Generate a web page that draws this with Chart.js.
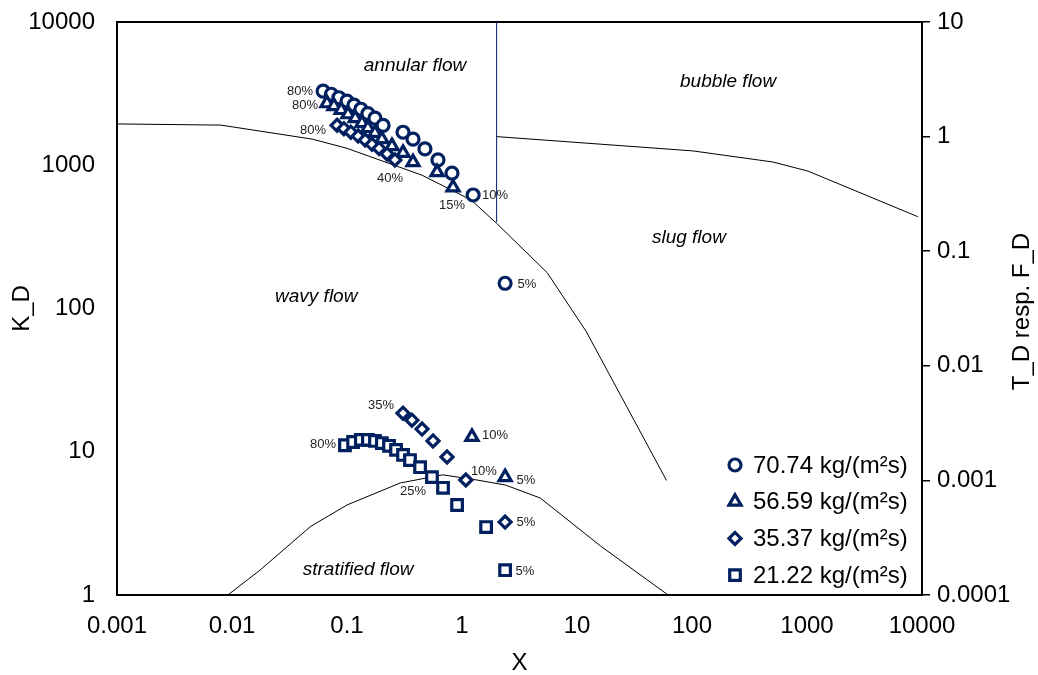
<!DOCTYPE html>
<html>
<head>
<meta charset="utf-8">
<script src="https://cdn.jsdelivr.net/npm/chart.js@4.4.0/dist/chart.umd.min.js"></script>
<style>
  html, body { margin: 0; padding: 0; background: #fff; }
</style>
</head>
<body>
<canvas id="flowMap" width="1038" height="675"></canvas>
<script>
// series (mass flux)
const seriesNames = ['70.74 kg/(m²s)', '56.59 kg/(m²s)', '35.37 kg/(m²s)', '21.22 kg/(m²s)'];

// measured points, vapour quality 80% -> 5%
const circleX = [0.062, 0.073, 0.085, 0.100, 0.115, 0.132, 0.152, 0.175, 0.206, 0.307, 0.375, 0.476, 0.618, 0.818, 1.25, 2.37];
const circleK = [3290, 3130, 2960, 2800, 2630, 2460, 2290, 2130, 1900, 1700, 1520, 1300, 1090, 880, 620, 150];

const triangleX = [0.067, 0.077, 0.089, 0.102, 0.118, 0.135, 0.152, 0.175, 0.201, 0.246, 0.307, 0.375, 0.607, 0.836, 1.22, 2.37];
const triangleK = [2710, 2590, 2430, 2270, 2130, 1970, 1820, 1680, 1520, 1360, 1220, 1050, 895, 700, 12.7, 6.65];

const diamondX = [0.082, 0.094, 0.108, 0.125, 0.144, 0.165, 0.190, 0.223, 0.261, 0.307, 0.367, 0.449, 0.560, 0.741, 1.08, 2.37];
const diamondK = [1900, 1800, 1700, 1600, 1500, 1400, 1310, 1200, 1090, 18.6, 16.6, 14.4, 11.9, 9.2, 6.35, 3.23];

const squareX = [0.096, 0.113, 0.132, 0.152, 0.175, 0.201, 0.232, 0.267, 0.307, 0.353, 0.432, 0.548, 0.684, 0.906, 1.62, 2.37];
const squareK = [11.1, 11.7, 12.1, 12.1, 11.9, 11.5, 11.0, 10.3, 9.5, 8.75, 7.8, 6.65, 5.6, 4.25, 2.98, 1.49];

// flow pattern boundaries
const curveAX = [0.001, 0.008, 0.05, 0.1, 0.45, 1.2, 2, 5.5, 12, 60];          // F_D (right axis)
const curveAF = [1.29, 1.26, 0.95, 0.79, 0.46, 0.28, 0.175, 0.065, 0.02, 0.001];
const curveBX = [2, 2];                                                          // K_D (left axis)
const curveBK = [400, 10000];
const curveCX = [0.0092, 0.0175, 0.048, 0.1, 0.29, 0.68, 1.35, 2.4, 4.8, 16, 62]; // K_D (left axis)
const curveCK = [1, 1.49, 3.0, 4.25, 6.05, 6.9, 6.35, 5.85, 4.75, 2.2, 1];
const curveDX = [2, 102, 506, 1020, 9200];                                       // T_D (right axis)
const curveDT = [1.0, 0.75, 0.6, 0.5, 0.2];

// tick labels
const xTicks = [0.001, 0.01, 0.1, 1, 10, 100, 1000, 10000];
const xTickLabels = ['0.001', '0.01', '0.1', '1', '10', '100', '1000', '10000'];
const kTicks = [1, 10, 100, 1000, 10000];
const kTickLabels = ['1', '10', '100', '1000', '10000'];
const tfTicks = [0.0001, 0.001, 0.01, 0.1, 1, 10];
const tfTickLabels = ['0.0001', '0.001', '0.01', '0.1', '1', '10'];

// text in the plot
const regionText = ['annular flow', 'bubble flow', 'slug flow', 'wavy flow', 'stratified flow'];
const regionX = [0.39, 206, 94, 0.054, 0.125];
const regionK = [4920, 3860, 310, 120, 1.49];

const qualityText = ['80%', '80%', '80%', '40%', '15%', '10%', '5%', '35%', '10%', '80%', '10%', '5%', '25%', '5%', '5%'];
const qualityX = [0.039, 0.0432, 0.0506, 0.237, 0.818, 1.94, 3.67, 0.198, 1.94, 0.0618, 1.55, 3.60, 0.375, 3.60, 3.53];
const qualityK = [3290, 2630, 1760, 813, 527, 618, 148, 21.2, 13.1, 11.3, 7.33, 6.35, 5.32, 3.23, 1.47];

const NAVY = '#002060';
const FONT = '"Liberation Sans", Arial, sans-serif';

const toPoints = (xs, ys) => xs.map((x, i) => ({ x: x, y: ys[i] }));

const markerStyles = [
    { pointStyle: 'circle', radius: 6 },
    { pointStyle: 'triangle', radius: 7 },
    { pointStyle: 'rectRot', radius: 6 },
    { pointStyle: 'rect', radius: 7.5 }
];

const markerData = [
    toPoints(circleX, circleK),
    toPoints(triangleX, triangleK),
    toPoints(diamondX, diamondK),
    toPoints(squareX, squareK)
];

const markerSets = markerData.map((pts, i) => ({
    label: seriesNames[i],
    data: pts,
    yAxisID: 'y',
    showLine: false,
    pointStyle: markerStyles[i].pointStyle,
    pointRadius: markerStyles[i].radius,
    pointBorderWidth: 3.2,
    pointBorderColor: NAVY,
    pointBackgroundColor: '#fff',
    order: 4 - i
}));

const lineSet = (pts, axis, color) => ({
    data: pts,
    yAxisID: axis,
    showLine: true,
    pointRadius: 0,
    borderColor: color || '#000',
    borderWidth: 1,
    fill: false,
    tension: 0,
    order: 10
});

const lineSets = [
    lineSet(toPoints(curveAX, curveAF), 'y2'),
    lineSet(toPoints(curveBX, curveBK), 'y', NAVY),
    lineSet(toPoints(curveCX, curveCK), 'y'),
    lineSet(toPoints(curveDX, curveDT), 'y2')
];

// frame, labels in the plot, legend and right title
const extras = {
    id: 'extras',
    beforeDatasetsDraw(chart) {
        const { ctx, chartArea: a } = chart;
        ctx.save();
        ctx.strokeStyle = '#000';
        ctx.lineWidth = 2;
        ctx.strokeRect(a.left, a.top, a.right - a.left, a.bottom - a.top);
        ctx.restore();
    },
    afterDatasetsDraw(chart) {
        const { ctx, chartArea: a, scales } = chart;
        const px = v => scales.x.getPixelForValue(v);
        const py = v => scales.y.getPixelForValue(v);
        ctx.save();
        ctx.fillStyle = '#000';
        ctx.textAlign = 'center';
        ctx.textBaseline = 'middle';

        ctx.font = 'italic 19px ' + FONT;
        regionText.forEach((t, i) => ctx.fillText(t, px(regionX[i]), py(regionK[i])));

        ctx.font = '13px ' + FONT;
        ctx.fillStyle = '#222';
        qualityText.forEach((t, i) => ctx.fillText(t, px(qualityX[i]), py(qualityK[i])));

        // legend
        ctx.font = '24px ' + FONT;
        ctx.fillStyle = '#000';
        ctx.textAlign = 'left';
        const lx = a.right - 187;
        seriesNames.forEach((name, i) => {
            const ly = a.bottom - 130 + i * 36.7;
            ctx.save();
            ctx.fillStyle = '#fff';
            ctx.strokeStyle = NAVY;
            ctx.lineWidth = 3.2;
            const opts = { pointStyle: markerStyles[i].pointStyle, radius: markerStyles[i].radius, borderWidth: 3.2, rotation: 0 };
            if (Chart.helpers && Chart.helpers.drawPoint) {
                Chart.helpers.drawPoint(ctx, opts, lx, ly);
            } else {
                ctx.beginPath();
                ctx.arc(lx, ly, opts.radius, 0, Math.PI * 2);
                ctx.fill();
                ctx.stroke();
            }
            ctx.restore();
            ctx.fillText(name, lx + 18, ly + 1);
        });

        // right axis title, reading bottom to top
        ctx.translate(1022, (a.top + a.bottom) / 2 + 3);
        ctx.rotate(-Math.PI / 2);
        ctx.textAlign = 'center';
        ctx.fillText('T_D resp. F_D', 0, 0);
        ctx.restore();
    }
};

const tickFont = { family: FONT, size: 24 };

// fixed axis box sizes so the plot area sits where the original has it
const fitVertical = width => s => {
    s.width = width;
    s.paddingTop = 0;
    s.paddingBottom = 0;
};

new Chart(document.getElementById('flowMap').getContext('2d'), {
    type: 'scatter',
    data: { datasets: [...markerSets, ...lineSets] },
    options: {
        responsive: false,
        animation: false,
        layout: { padding: { top: 22, left: 0, right: 0, bottom: 0 } },
        plugins: { legend: { display: false }, tooltip: { enabled: false } },
        scales: {
            x: {
                type: 'logarithmic',
                min: 0.001,
                max: 10000,
                afterFit: s => { s.height = 80; s.paddingLeft = 0; s.paddingRight = 0; },
                afterBuildTicks: s => { s.ticks = xTicks.map(v => ({ value: v })); },
                ticks: { callback: (v, i) => xTickLabels[i], autoSkip: false, maxRotation: 0, padding: 17, font: tickFont, color: '#000' },
                grid: { display: false, drawTicks: false },
                border: { display: false },
                title: { display: true, text: 'X', color: '#000', font: { family: FONT, size: 24, lineHeight: 1 }, padding: 0 }
            },
            y: {
                type: 'logarithmic',
                position: 'left',
                min: 1,
                max: 10000,
                afterFit: fitVertical(117),
                afterBuildTicks: s => { s.ticks = kTicks.map(v => ({ value: v })); },
                ticks: { callback: (v, i) => kTickLabels[i], autoSkip: false, padding: 22, font: tickFont, color: '#000' },
                grid: { display: false, drawTicks: false },
                border: { display: false },
                title: { display: true, text: 'K_D', color: '#000', font: { family: FONT, size: 24, lineHeight: 1 }, padding: { top: 10, bottom: 0 } }
            },
            y2: {
                type: 'logarithmic',
                position: 'right',
                min: 0.0001,
                max: 10,
                afterFit: fitVertical(116),
                afterBuildTicks: s => { s.ticks = tfTicks.map(v => ({ value: v })); },
                ticks: { callback: (v, i) => tfTickLabels[i], autoSkip: false, padding: 7, font: tickFont, color: '#000' },
                grid: { display: true, drawOnChartArea: false, drawTicks: true, tickLength: 8, color: '#000', lineWidth: 1.5 },
                border: { display: false }
            }
        }
    },
    plugins: [extras]
});
</script>
</body>
</html>
